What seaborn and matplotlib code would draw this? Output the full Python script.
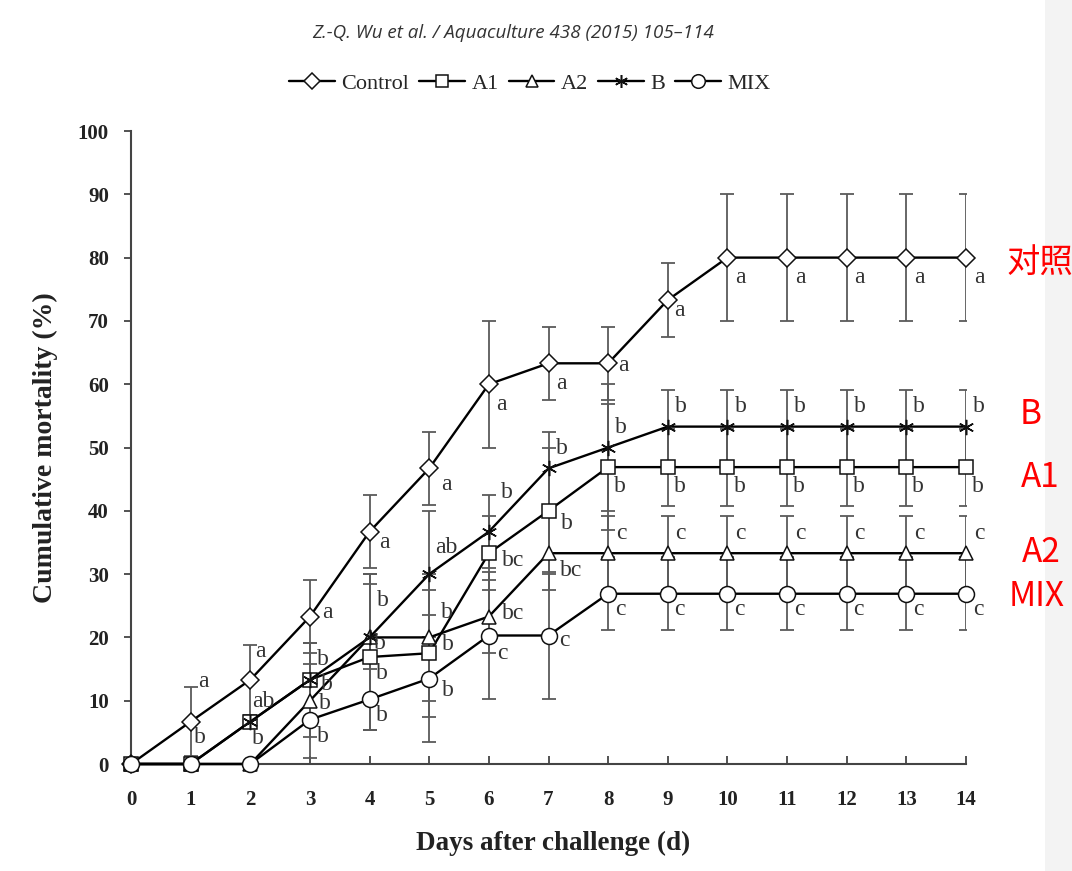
import pandas as pd
import matplotlib
matplotlib.use('Agg')
import matplotlib.pyplot as plt
import seaborn as sns
from matplotlib.lines import Line2D
from matplotlib.patches import Rectangle

# ---- data ----
days = list(range(15))
groups = ['Control', 'A1', 'A2', 'B', 'MIX']

control = [0, 6.7, 13.3, 23.3, 36.7, 46.7, 60.0, 63.3, 63.3, 73.3, 80, 80, 80, 80, 80]
a1 = [0, 0, 6.7, 13.3, 16.9, 17.5, 33.3, 40.0, 46.9, 46.9, 46.9, 46.9, 46.9, 46.9, 46.9]
a2 = [0, 0, 0, 10.0, 20.0, 20.0, 23.3, 33.3, 33.3, 33.3, 33.3, 33.3, 33.3, 33.3, 33.3]
b = [0, 0, 6.7, 13.3, 20.0, 30.0, 36.7, 46.7, 50.0, 53.3, 53.3, 53.3, 53.3, 53.3, 53.3]
mix = [0, 0, 0, 7.0, 10.2, 13.5, 20.3, 20.3, 26.9, 26.9, 26.9, 26.9, 26.9, 26.9, 26.9]

control_sd = [0, 5.5, 5.5, 5.8, 5.8, 5.8, 10, 5.8, 5.8, 5.8, 10, 10, 10, 10, 10]
a1_sd = [0, 0, 0, 5.8, 11.5, 10, 5.8, 10, 10, 6.1, 6.1, 6.1, 6.1, 6.1, 6.1]
a2_sd = [0, 0, 0, 5.8, 10, 10, 5.8, 5.8, 5.8, 5.8, 5.8, 5.8, 5.8, 5.8, 5.8]
b_sd = [0, 0, 0, 5.8, 10, 10, 5.8, 5.8, 10, 5.8, 5.8, 5.8, 5.8, 5.8, 5.8]
mix_sd = [0, 0, 0, 6.1, 4.8, 10, 10, 10, 5.8, 5.8, 5.8, 5.8, 5.8, 5.8, 5.8]

# significance letters (None = no letter)
control_letters = [None] + ['a'] * 14
a1_letters = [None, 'b', 'b', 'b', 'b', 'b', 'bc', 'b', 'b', 'b', 'b', 'b', 'b', 'b', 'b']
a2_letters = [None, None, None, 'b', 'b', 'b', 'bc', 'bc', 'c', 'c', 'c', 'c', 'c', 'c', 'c']
b_letters = [None, None, 'ab', 'b', 'b', 'ab', 'b', 'b', 'b', 'b', 'b', 'b', 'b', 'b', 'b']
mix_letters = [None, None, None, 'b', 'b', 'b', 'c', 'c', 'c', 'c', 'c', 'c', 'c', 'c', 'c']

side_labels = ['对照', 'B', 'A1', 'A2', 'MIX']

values = {'Control': control, 'A1': a1, 'A2': a2, 'B': b, 'MIX': mix}
sds = {'Control': control_sd, 'A1': a1_sd, 'A2': a2_sd, 'B': b_sd, 'MIX': mix_sd}
letters = {'Control': control_letters, 'A1': a1_letters, 'A2': a2_letters,
           'B': b_letters, 'MIX': mix_letters}

df = pd.DataFrame([{'day': d, 'group': g, 'mort': values[g][i], 'sd': sds[g][i]}
                   for g in groups for i, d in enumerate(days)])

# ---- style ----
sns.set_style('ticks')
plt.rcParams['font.family'] = ['Liberation Serif', 'DejaVu Serif']

markers = {'Control': 'D', 'A1': 's', 'A2': '^', 'B': (6, 2, 0), 'MIX': 'o'}
msizes = {'Control': 9, 'A1': 10.5, 'A2': 10.5, 'B': 11, 'MIX': 11.5}

# letter placement, pixels from the point (dx right, dy down)
letter_off = {'Control': (13, 20), 'B': (13, -20), 'A1': (12, 19), 'A2': (13, -20), 'MIX': (12, 16)}
letter_fix = {
    'Control': {1: (13, -40), 2: (10, -28), 3: (17, -4), 4: (15, 11), 5: (17, 16), 8: (15, 2), 9: (12, 10)},
    'B': {4: (13, -37), 5: (17, -27), 6: (18, -39)},
    'A1': {1: (9, -27), 2: (8, 17), 3: (17, 5), 4: (12, 16), 5: (19, -9), 6: (24, 7), 7: (18, 13)},
    'A2': {3: (15, 3), 4: (10, 6), 5: (18, -25), 6: (24, -3), 7: (23, 17)},
    'MIX': {3: (13, 17), 5: (19, 12), 6: (14, 18), 7: (16, 5)},
}

fig = plt.figure(figsize=(10.72, 8.71), dpi=100)
fig.patches.append(Rectangle((1045 / 1072, 0), 27 / 1072, 1, transform=fig.transFigure,
                             facecolor='#f3f3f3', edgecolor='none', zorder=-5))
ax = fig.add_axes([131 / 1072, 1 - 764 / 871, 835 / 1072, 633 / 871])
ax.patch.set_alpha(0)

for g in groups:
    sub = df[df['group'] == g]
    err = sub[sub['sd'] > 0]
    ax.errorbar(err['day'], err['mort'], yerr=err['sd'], fmt='none', ecolor='#5a5a5a',
                elinewidth=1.3, capsize=5, capthick=1.3, zorder=2)
    sns.lineplot(data=sub, x='day', y='mort', ax=ax, color='k', linewidth=1.7,
                 marker=markers[g], markersize=msizes[g], markerfacecolor='white',
                 markeredgecolor='#111111', markeredgewidth=1.1, zorder=3,
                 clip_on=False, legend=False)
    for i, d in enumerate(days):
        lt = letters[g][i]
        if lt is None:
            continue
        dx, dy = letter_fix[g].get(d, letter_off[g])
        ax.annotate(lt, (d, values[g][i]), xytext=(dx * 0.72, -dy * 0.72),
                    textcoords='offset points', ha='center', va='center',
                    fontsize=17, color='#333333', zorder=4)

ax.set_xlim(0, 14)
ax.set_ylim(0, 100)
ax.set_xticks(days)
ax.set_yticks(range(0, 101, 10))
sns.despine(ax=ax)
for s in ['left', 'bottom']:
    ax.spines[s].set_color('#444444')
    ax.spines[s].set_linewidth(1.5)
ax.tick_params(axis='x', direction='in', length=6, width=1.3, color='#444444', pad=19)
ax.tick_params(axis='y', direction='out', length=5, width=1.3, color='#444444', pad=11)
for lab in ax.get_xticklabels() + ax.get_yticklabels():
    lab.set_fontweight('bold')
    lab.set_fontsize(15)
    lab.set_color('#222222')

ax.set_xlabel('Days after challenge (d)', fontsize=19.5, fontweight='bold', color='#222222')
ax.set_ylabel('Cumulative mortality (%)', fontsize=20, fontweight='bold', color='#222222')
ax.xaxis.set_label_coords(0.505, -0.106)
ax.yaxis.set_label_coords(-0.087, 0.5)

# legend at top
handles = [Line2D([], [], color='k', lw=1.7, marker=markers[g], ms=msizes[g] * 0.85,
                  mfc='white', mec='#111111', mew=1.1) for g in groups]
fig.legend(handles, groups, loc='center', bbox_to_anchor=(530 / 1072, 1 - 84 / 871),
           ncol=5, frameon=False, fontsize=16, handlelength=2.05, handletextpad=0.3,
           columnspacing=0.45, borderaxespad=0)

fig.text(513 / 1072, 1 - 33 / 871, 'Z.-Q. Wu et al. / Aquaculture 438 (2015) 105\u2013114',
         ha='center', va='center', fontsize=13.5, style='italic', color='#333333',
         family='Open Sans')

# red annotations on the right
label_x = [1040, 1031, 1040, 1041, 1037]
label_y = [263, 415, 477, 552, 597]
for txt, px, py in zip(side_labels, label_x, label_y):
    fig.text(px / 1072, 1 - py / 871, txt, ha='center', va='center', fontsize=24,
             color='#ff0000', family=['Noto Sans CJK SC', 'DejaVu Sans'])

fig.savefig('out.png', dpi=100)
